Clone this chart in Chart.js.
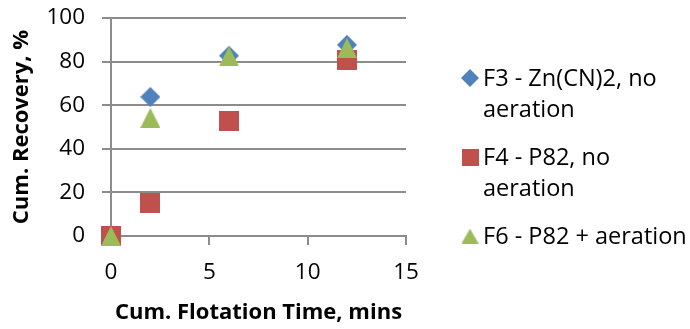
<!DOCTYPE html>
<html>
<head>
<meta charset="utf-8">
<script src="https://cdn.jsdelivr.net/npm/chart.js@4.4.0/dist/chart.umd.min.js"></script>
<style>
html, body { margin: 0; padding: 0; background: #fff; }
</style>
</head>
<body>
<canvas id="myScatterChart" width="690" height="329"></canvas>
<script>
// Values
const times = [0, 2, 6, 12];
const seriesNames = ['F3 - Zn(CN)2, no aeration', 'F4 - P82, no aeration', 'F6 - P82 + aeration'];
const f3Recovery = [0, 63.8, 82.7, 87.7];
const f4Recovery = [0, 15.1, 52.6, 80.9];
const f6Recovery = [0, 54.2, 82.4, 86.2];
const xTicks = [0, 5, 10, 15];
const yTicks = [0, 20, 40, 60, 80, 100];

const colors = ['#4F81BD', '#C0504D', '#9BBB59'];
const shapes = ['diamond', 'square', 'triangle'];
const fontFamily = '"Open Sans"';
const gridGray = '#8c8c8c';

// Excel-like markers, centred on their bounding box
function makeMarker(shape, color, w, h) {
    const c = document.createElement('canvas');
    c.width = w;
    c.height = h;
    const g = c.getContext('2d');
    g.fillStyle = color;
    g.beginPath();
    if (shape === 'diamond') {
        g.moveTo(w / 2, 0);
        g.lineTo(w, h / 2);
        g.lineTo(w / 2, h);
        g.lineTo(0, h / 2);
    } else if (shape === 'square') {
        g.rect(0, 0, w, h);
    } else {
        g.moveTo(w / 2, 0);
        g.lineTo(w, h);
        g.lineTo(0, h);
    }
    g.closePath();
    g.fill();
    return c;
}

const plotMarkers = shapes.map((s, i) => makeMarker(s, colors[i], 20, 20));
const legendMarkers = [
    makeMarker('diamond', colors[0], 18, 18),
    makeMarker('square', colors[1], 17, 17),
    makeMarker('triangle', colors[2], 17, 15)
];

const toPoints = (ys) => times.map((t, i) => ({ x: t, y: ys[i] }));

// Legend on the right, wrapped like the Excel one
const sideLegend = {
    id: 'sideLegend',
    afterDraw(chart) {
        const c = chart.ctx;
        c.save();
        c.font = '23.5px ' + fontFamily;
        c.fillStyle = '#000';
        c.textBaseline = 'alphabetic';
        const maxWidth = 215;
        let baseline = 86;
        chart.data.datasets.forEach((ds, i) => {
            // greedy word wrap
            const words = ds.label.split(' ');
            const lines = [];
            let line = '';
            words.forEach(w => {
                const test = line ? line + ' ' + w : w;
                if (line && c.measureText(test).width > maxWidth) {
                    lines.push(line);
                    line = w;
                } else {
                    line = test;
                }
            });
            lines.push(line);

            const m = legendMarkers[i];
            c.drawImage(m, 470 - m.width / 2, baseline - 8 - m.height / 2);
            lines.forEach((l, j) => {
                c.fillText(l, 483, baseline);
                if (j < lines.length - 1) baseline += 31;
            });
            baseline += 48;
        });
        c.restore();
    }
};

const ctx = document.getElementById('myScatterChart').getContext('2d');
const myScatterChart = new Chart(ctx, {
    type: 'scatter',
    data: {
        datasets: [
            { label: seriesNames[0], data: toPoints(f3Recovery), pointStyle: plotMarkers[0], order: 2, clip: false },
            { label: seriesNames[1], data: toPoints(f4Recovery), pointStyle: plotMarkers[1], order: 1, clip: false },
            { label: seriesNames[2], data: toPoints(f6Recovery), pointStyle: plotMarkers[2], order: 0, clip: false }
        ]
    },
    options: {
        responsive: false,
        animation: false,
        layout: {
            padding: { top: 18, right: 284, left: 0, bottom: 0 }
        },
        plugins: {
            legend: { display: false },
            tooltip: { enabled: false }
        },
        scales: {
            x: {
                type: 'linear',
                min: xTicks[0],
                max: xTicks[xTicks.length - 1],
                ticks: {
                    stepSize: xTicks[1] - xTicks[0],
                    font: { family: fontFamily, size: 22.5 },
                    color: '#000',
                    padding: 14,
                    maxRotation: 0
                },
                grid: {
                    drawOnChartArea: false,
                    drawTicks: true,
                    tickLength: 9,
                    color: gridGray,
                    lineWidth: 2
                },
                border: { display: true, color: gridGray, width: 2 },
                title: {
                    display: true,
                    text: 'Cum. Flotation Time, mins',
                    font: { family: fontFamily, size: 22, weight: 'bold' },
                    color: '#000',
                    padding: { top: 0, bottom: 3 }
                },
                afterFit: (scale) => { scale.height = 93; }
            },
            y: {
                min: yTicks[0],
                max: yTicks[yTicks.length - 1],
                ticks: {
                    stepSize: yTicks[1] - yTicks[0],
                    font: { family: fontFamily, size: 22.5 },
                    color: '#000',
                    padding: 17
                },
                grid: {
                    drawTicks: true,
                    tickLength: 9,
                    color: gridGray,
                    lineWidth: 2
                },
                border: { display: true, color: gridGray, width: 2 },
                title: {
                    display: true,
                    text: 'Cum. Recovery, %',
                    font: { family: fontFamily, size: 22, weight: 'bold' },
                    color: '#000',
                    padding: { top: 9, bottom: 0 }
                },
                afterFit: (scale) => {
                    scale.width = 111;
                    // keep the plot top at the layout padding
                    scale.paddingTop = 0;
                    scale.paddingBottom = 0;
                }
            }
        }
    },
    plugins: [sideLegend]
});
</script>
</body>
</html>
